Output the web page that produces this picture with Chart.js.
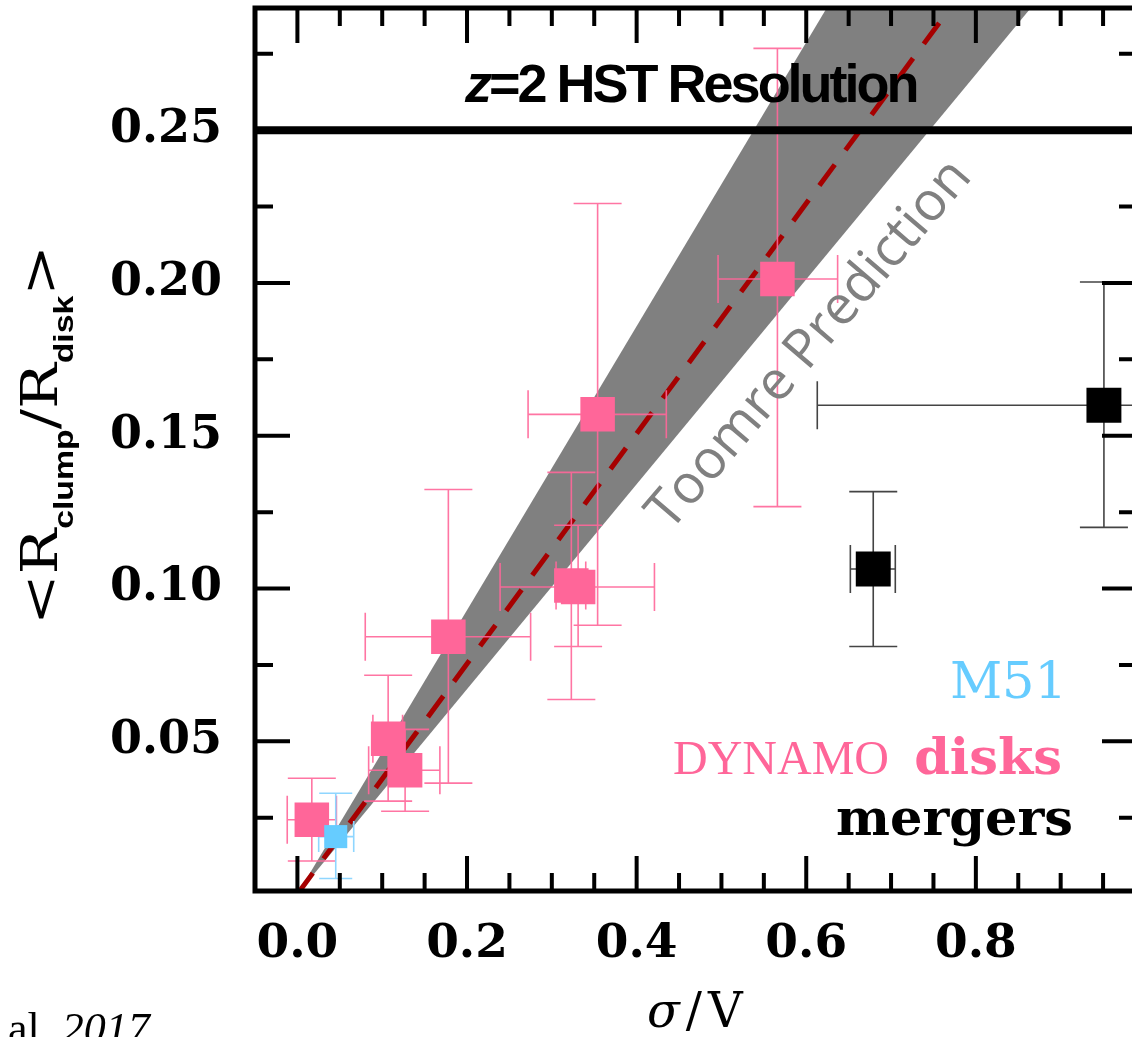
<!DOCTYPE html>
<html>
<head>
<meta charset="utf-8">
<title>Clump size vs sigma/V</title>
<script src="https://cdn.jsdelivr.net/npm/chart.js@4/dist/chart.umd.min.js"></script>
<style>
  html, body { margin: 0; padding: 0; background: #fff; overflow: hidden; }
  #wrap { position: absolute; left: 0; top: 0; width: 1140px; height: 1037px; }
</style>
</head>
<body>
<div id="wrap"><canvas id="clumps" width="1140" height="1037"></canvas></div>
<script>
// ---- axes ----
const xTickValues = [0.0, 0.2, 0.4, 0.6, 0.8];
const xTickLabels = ['0.0', '0.2', '0.4', '0.6', '0.8'];
const xMinorTicks = [0.05, 0.1, 0.15, 0.25, 0.3, 0.35, 0.45, 0.5, 0.55, 0.65, 0.7, 0.75, 0.85, 0.9, 0.95];
const yTickValues = [0.05, 0.10, 0.15, 0.20, 0.25];
const yTickLabels = ['0.05', '0.10', '0.15', '0.20', '0.25'];
const yMinorTicks = [0.025, 0.075, 0.125, 0.175, 0.225, 0.275];

// ---- Toomre prediction (band edges + central relation) ----
const toomreX = [0.0, 0.99];
const bandUpper = [0.0, 0.46];
const bandLower = [0.0, 0.332];
const toomreCentre = [0.0, 0.373];

// ---- DYNAMO disks ----
const disksX   = [0.017, 0.107, 0.127, 0.178, 0.323, 0.331, 0.354, 0.566];
const disksY   = [0.0243, 0.0508, 0.0405, 0.0842, 0.101, 0.1005, 0.157, 0.2013];
const disksXLo = [-0.012, 0.089, 0.084, 0.080, 0.305, 0.239, 0.272, 0.496];
const disksXHi = [0.046, 0.124, 0.168, 0.275, 0.340, 0.421, 0.435, 0.637];
const disksYLo = [0.0108, 0.0304, 0.0271, 0.0363, 0.0637, 0.081, 0.088, 0.1268];
const disksYHi = [0.0379, 0.0716, 0.0539, 0.1324, 0.138, 0.1207, 0.226, 0.2768];

// ---- M51 ----
const m51X = [0.0452], m51Y = [0.0188];
const m51XLo = [0.0251], m51XHi = [0.0664];
const m51YLo = [0.0051], m51YHi = [0.033];

// ---- mergers ----
const mergersX   = [0.679, 0.951];
const mergersY   = [0.1064, 0.160];
const mergersXLo = [0.652, 0.613];
const mergersXHi = [0.705, 1.289];
const mergersYLo = [0.081, 0.120];
const mergersYHi = [0.1317, 0.2003];

const HST_LIMIT = 0.25;

const PINK = '#ff6699', BLUE = '#66ccff', GREY = '#808080';

const pts = (xs, ys) => xs.map((x, i) => ({ x: x, y: ys[i] }));

// keep the plot box fixed: no extra room for half-labels at the ends
function fixBox(s, w, h) {
  if (w !== null) s.width = w;
  if (h !== null) s.height = h;
  s.paddingLeft = s.paddingRight = s.paddingTop = s.paddingBottom = 0;
}

function errorBars(chart, xs, ys, xLo, xHi, yLo, yHi, color, capW, capH) {
  const ctx = chart.ctx, sx = chart.scales.x, sy = chart.scales.y, a = chart.chartArea;
  ctx.save();
  ctx.beginPath();
  ctx.rect(a.left, a.top, a.right - a.left, a.bottom - a.top);
  ctx.clip();
  ctx.strokeStyle = color;
  ctx.lineWidth = 1.6;
  ctx.beginPath();
  xs.forEach((x, i) => {
    const px = sx.getPixelForValue(x), py = sy.getPixelForValue(ys[i]);
    const x0 = sx.getPixelForValue(xLo[i]), x1 = sx.getPixelForValue(xHi[i]);
    const y0 = sy.getPixelForValue(yLo[i]), y1 = sy.getPixelForValue(yHi[i]);
    // vertical bar + caps
    ctx.moveTo(px, y0); ctx.lineTo(px, y1);
    ctx.moveTo(px - capW / 2, y0); ctx.lineTo(px + capW / 2, y0);
    ctx.moveTo(px - capW / 2, y1); ctx.lineTo(px + capW / 2, y1);
    // horizontal bar + caps
    ctx.moveTo(x0, py); ctx.lineTo(x1, py);
    ctx.moveTo(x0, py - capH / 2); ctx.lineTo(x0, py + capH / 2);
    ctx.moveTo(x1, py - capH / 2); ctx.lineTo(x1, py + capH / 2);
  });
  ctx.stroke();
  ctx.restore();
}

// error bars go on top of the band/dashed line but under the squares
const errorBarPlugin = {
  id: 'errorBars',
  afterDatasetDraw(chart, args) {
    if (args.index !== 2) return;
    errorBars(chart, disksX, disksY, disksXLo, disksXHi, disksYLo, disksYHi, 'rgba(255,102,153,0.9)', 48, 48);
    errorBars(chart, m51X, m51Y, m51XLo, m51XHi, m51YLo, m51YHi, '#8fd6ff', 33, 31);
    errorBars(chart, mergersX, mergersY, mergersXLo, mergersXHi, mergersYLo, mergersYHi, '#444', 48, 48);
  }
};

// frame, inward ticks, HST line and annotations
const framePlugin = {
  id: 'frame',
  afterDatasetsDraw(chart) {
    const ctx = chart.ctx, a = chart.chartArea, sx = chart.scales.x, sy = chart.scales.y;
    const MAJ = 35, MIN = 18;

    ctx.save();
    // HST resolution limit
    const hy = sy.getPixelForValue(HST_LIMIT);
    ctx.strokeStyle = '#000';
    ctx.lineWidth = 8;
    ctx.beginPath();
    ctx.moveTo(a.left, hy); ctx.lineTo(a.right, hy);
    ctx.stroke();

    ctx.fillStyle = '#000';
    ctx.textBaseline = 'alphabetic';
    ctx.textAlign = 'left';
    ctx.letterSpacing = '-3px';
    ctx.font = 'italic bold 54px "Liberation Sans"';
    let tx = 465;
    ctx.fillText('z', tx, 102);
    tx += ctx.measureText('z').width;
    ctx.font = 'bold 54px "Liberation Sans"';
    ctx.fillText('=2 HST Resolution', tx, 102);
    ctx.letterSpacing = '0px';

    // Toomre label along the band
    ctx.save();
    ctx.translate(810, 345);
    ctx.rotate(-49.5 * Math.PI / 180);
    ctx.fillStyle = GREY;
    ctx.font = '54px "Open Sans"';
    ctx.textAlign = 'center';
    ctx.textBaseline = 'middle';
    ctx.fillText('Toomre Prediction', 0, 0);
    ctx.restore();

    // legend text
    ctx.textAlign = 'right';
    ctx.textBaseline = 'alphabetic';
    ctx.fillStyle = BLUE;
    ctx.font = '51px "DejaVu Serif"';
    ctx.fillText('M51', 1067, 698);
    ctx.fillStyle = PINK;
    ctx.font = 'bold 51px "DejaVu Serif"';
    ctx.fillText('disks', 1062, 774);
    ctx.font = '48px "Liberation Serif"';
    ctx.fillText('DYNAMO', 889, 774);
    ctx.fillStyle = '#000';
    ctx.font = 'bold 51px "DejaVu Serif"';
    ctx.fillText('mergers', 1073, 835);

    // frame
    ctx.lineWidth = 5;
    ctx.strokeStyle = '#000';
    ctx.strokeRect(a.left, a.top, a.right - a.left, a.bottom - a.top);

    // ticks on all four sides, pointing inwards
    ctx.lineWidth = 4;
    ctx.beginPath();
    const xt = (v, len) => {
      const p = sx.getPixelForValue(v);
      ctx.moveTo(p, a.bottom); ctx.lineTo(p, a.bottom - len);
      ctx.moveTo(p, a.top); ctx.lineTo(p, a.top + len);
    };
    const yt = (v, len) => {
      const p = sy.getPixelForValue(v);
      ctx.moveTo(a.left, p); ctx.lineTo(a.left + len, p);
      ctx.moveTo(a.right, p); ctx.lineTo(a.right - len, p);
    };
    xTickValues.forEach(v => xt(v, MAJ));
    xMinorTicks.forEach(v => xt(v, MIN));
    yTickValues.forEach(v => yt(v, MAJ));
    yMinorTicks.forEach(v => yt(v, MIN));
    ctx.stroke();
    ctx.restore();
  },
  afterDraw(chart) {
    const ctx = chart.ctx;
    ctx.save();
    ctx.fillStyle = '#000';
    ctx.textBaseline = 'alphabetic';

    // x title: sigma / V
    ctx.textAlign = 'left';
    ctx.font = 'italic 48px "DejaVu Serif"';
    ctx.fillText('σ', 647, 1027);
    let w = ctx.measureText('σ').width;
    ctx.font = '48px "DejaVu Serif"';
    ctx.fillText('/', 647 + w + 6, 1027);
    w += 6 + ctx.measureText('/').width + 6;
    ctx.fillText('V', 647 + w, 1027);

    // y title: <R_clump / R_disk>
    const big = '50px "DejaVu Serif"', sub = 'bold 28px "Liberation Sans"';
    const pieces = [['<', big, 0], ['R', big, 0], ['clump', sub, 16], ['/', big, 0],
                    ['R', big, 0], ['disk', sub, 16], ['>', big, 0]];
    let total = 0;
    pieces.forEach(p => { ctx.font = p[1]; p.push(ctx.measureText(p[0]).width); total += p[3]; });
    ctx.save();
    ctx.translate(57, 435);
    ctx.rotate(-Math.PI / 2);
    ctx.scale(380 / total, 1);
    let cx = -total / 2;
    pieces.forEach(p => { ctx.font = p[1]; ctx.fillText(p[0], cx, p[2]); cx += p[3]; });
    ctx.restore();

    // citation fragment, bottom left
    ctx.font = '44px "Liberation Serif"';
    ctx.fillText('al. ', 8, 1043);
    const aw = ctx.measureText('al. ').width;
    ctx.font = 'italic 44px "Liberation Serif"';
    ctx.fillText('2017', 8 + aw, 1043);
    ctx.restore();
  }
};

new Chart(document.getElementById('clumps'), {
  type: 'scatter',
  data: {
    datasets: [
      { label: 'Toomre upper', data: pts(toomreX, bandUpper), showLine: true, borderWidth: 0,
        borderColor: 'rgba(0,0,0,0)', pointRadius: 0, backgroundColor: GREY, fill: '+1', order: 10 },
      { label: 'Toomre lower', data: pts(toomreX, bandLower), showLine: true, borderWidth: 0,
        borderColor: 'rgba(0,0,0,0)', pointRadius: 0, fill: false, order: 10 },
      { label: 'Toomre', data: pts(toomreX, toomreCentre), showLine: true, borderColor: '#a60000',
        borderWidth: 5, borderDash: [26, 18], pointRadius: 0, fill: false, order: 5 },
      { label: 'DYNAMO disks', data: pts(disksX, disksY), pointStyle: 'rect', pointRadius: 24.4,
        backgroundColor: PINK, borderWidth: 0, order: 1 },
      { label: 'M51', data: pts(m51X, m51Y), pointStyle: 'rect', pointRadius: 16.3,
        backgroundColor: BLUE, borderWidth: 0, order: 0 },
      { label: 'mergers', data: pts(mergersX, mergersY), pointStyle: 'rect', pointRadius: 24.7,
        backgroundColor: '#000', borderWidth: 0, order: 2 }
    ]
  },
  options: {
    responsive: false,
    animation: false,
    events: [],
    layout: { autoPadding: false, padding: { top: 8, right: 3, left: 0, bottom: 0 } },
    plugins: { legend: { display: false }, tooltip: { enabled: false } },
    scales: {
      x: {
        type: 'linear', min: -0.05, max: 0.99,
        afterFit: s => fixBox(s, null, 146),
        afterBuildTicks: s => { s.ticks = xTickValues.map(v => ({ value: v })); },
        grid: { display: false, drawTicks: false },
        border: { display: false },
        ticks: {
          autoSkip: false, maxRotation: 0, padding: 26, color: '#000',
          font: { family: 'DejaVu Serif', size: 47, weight: 'bold' },
          callback: (v, i) => xTickLabels[i]
        }
      },
      y: {
        type: 'linear', min: 0.001, max: 0.29,
        afterFit: s => fixBox(s, 255, null),
        afterBuildTicks: s => { s.ticks = yTickValues.map(v => ({ value: v })); },
        grid: { display: false, drawTicks: false },
        border: { display: false },
        ticks: {
          autoSkip: false, padding: 33, color: '#000',
          font: { family: 'DejaVu Serif', size: 46, weight: 'bold' },
          callback: (v, i) => yTickLabels[i]
        }
      }
    }
  },
  plugins: [errorBarPlugin, framePlugin]
});
</script>
</body>
</html>
